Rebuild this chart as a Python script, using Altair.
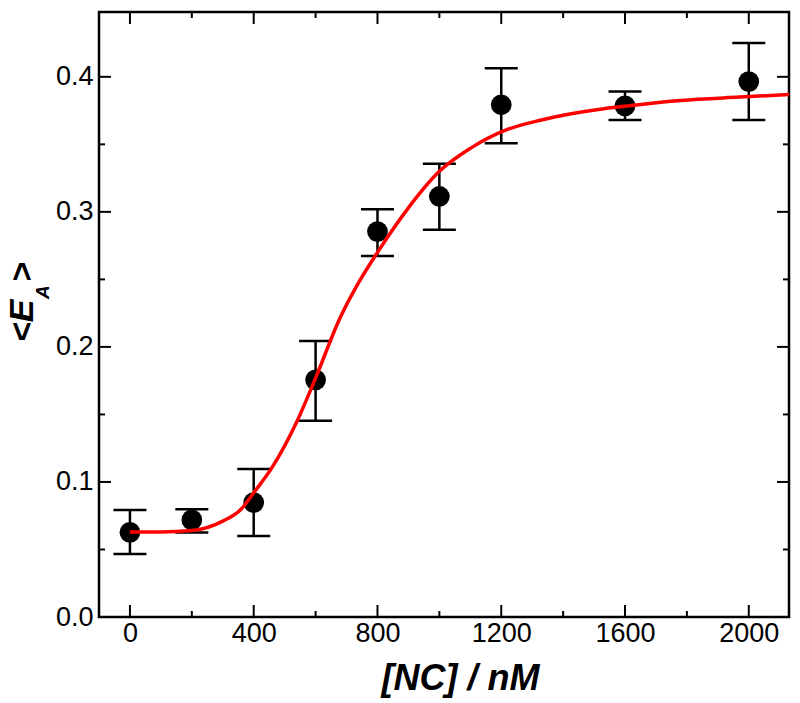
import altair as alt
import pandas as pd

# ---- data ----
conc = [0, 200, 400, 600, 800, 1000, 1200, 1600, 2000]
ea = [0.0627, 0.0719, 0.0847, 0.1756, 0.2854, 0.3114, 0.3793, 0.3785, 0.3965]
err_lo = [0.0467, 0.0625, 0.0600, 0.1454, 0.2674, 0.2867, 0.3509, 0.3681, 0.3680]
err_hi = [0.0793, 0.0797, 0.1096, 0.2044, 0.3020, 0.3356, 0.4064, 0.3891, 0.4250]

fit_x = [0, 100, 200, 300, 360, 400, 460, 540, 600, 680, 740, 800, 900, 1000,
         1100, 1220, 1330, 1400, 1520, 1590, 1780, 1970, 2140]
fit_y = [0.063, 0.063, 0.064, 0.071, 0.080, 0.092, 0.111, 0.145, 0.177, 0.222,
         0.248, 0.270, 0.303, 0.330, 0.347, 0.361, 0.368, 0.3715, 0.376, 0.378,
         0.3825, 0.385, 0.387]

x_major = [0, 400, 800, 1200, 1600, 2000]
x_minor = [200, 600, 1000, 1400, 1800]
y_major = [0.0, 0.1, 0.2, 0.3, 0.4]
y_minor = [0.05, 0.15, 0.25, 0.35]

W, H = 690, 605
XDOM = [-100, 2130]
YDOM = [0, 0.448]

pts = pd.DataFrame({"c": conc, "e": ea, "lo": err_lo, "hi": err_hi})
fit = pd.DataFrame({"c": fit_x, "e": fit_y})

xs = alt.Scale(domain=XDOM, nice=False, zero=False)
ys = alt.Scale(domain=YDOM, nice=False, zero=False)

LBL_FONT = "Liberation Sans"

xaxis = alt.Axis(values=x_major, format="d", domain=False, ticks=False, grid=False,
                 labelFontSize=27, labelFont=LBL_FONT, labelColor="black",
                 labelPadding=3, title="[NC] / nM", titleFont=LBL_FONT,
                 titleFontSize=36, titleFontWeight="bold", titleFontStyle="italic",
                 titleColor="black", titleX=361, titleY=72,
                 titleBaseline="alphabetic", titleAlign="center")
yaxis = alt.Axis(values=y_major, format=".1f", domain=False, ticks=False, grid=False,
                 labelFontSize=27, labelFont=LBL_FONT, labelColor="black",
                 labelPadding=6, title="")


def X(field):
    return alt.X(field, scale=xs, axis=xaxis)


def Y(field):
    return alt.Y(field, scale=ys, axis=yaxis)


points = alt.Chart(pts).mark_circle(size=430, color="black", opacity=1).encode(
    x=X("c:Q"), y=Y("e:Q"))

bars = alt.Chart(pts).mark_rule(color="black", strokeWidth=2.5).encode(
    x=X("c:Q"), y=Y("lo:Q"), y2="hi:Q")
cap_lo = alt.Chart(pts).mark_tick(color="black", orient="horizontal", size=33,
                                  thickness=2.5, opacity=1).encode(
    x=X("c:Q"), y=Y("lo:Q"))
cap_hi = alt.Chart(pts).mark_tick(color="black", orient="horizontal", size=33,
                                  thickness=2.5, opacity=1).encode(
    x=X("c:Q"), y=Y("hi:Q"))

curve = alt.Chart(fit).mark_line(color="#ff0000", strokeWidth=3.5,
                                 interpolate="monotone", clip=True).encode(
    x=X("c:Q"), y=Y("e:Q"))

# inward ticks on all four sides
xmaj = pd.DataFrame({"c": x_major})
xmin = pd.DataFrame({"c": x_minor})
ymaj = pd.DataFrame({"e": y_major})
ymin = pd.DataFrame({"e": y_minor})


def xticks(df, length):
    bottom = alt.Chart(df).mark_rule(color="black", strokeWidth=2).encode(
        x=X("c:Q"), y=alt.value(H), y2=alt.value(H - length))
    top = alt.Chart(df).mark_rule(color="black", strokeWidth=2).encode(
        x=X("c:Q"), y=alt.value(0), y2=alt.value(length))
    return [bottom, top]


def yticks(df, length):
    left = alt.Chart(df).mark_rule(color="black", strokeWidth=2).encode(
        y=Y("e:Q"), x=alt.value(0), x2=alt.value(length))
    right = alt.Chart(df).mark_rule(color="black", strokeWidth=2).encode(
        y=Y("e:Q"), x=alt.value(W), x2=alt.value(W - length))
    return [left, right]


tick_layers = xticks(xmaj, 12) + xticks(xmin, 6) + yticks(ymaj, 12) + yticks(ymin, 6)

# y-axis title <E_A> built from pieces (subscript A)
t1 = alt.Chart(pd.DataFrame({"t": ["<E"]})).mark_text(
    angle=270, align="left", baseline="alphabetic", font=LBL_FONT, fontSize=34,
    fontWeight="bold", fontStyle="italic", color="black").encode(
    text="t:N", x=alt.value(-66), y=alt.value(330))
t2 = alt.Chart(pd.DataFrame({"t": ["A"]})).mark_text(
    angle=270, align="left", baseline="alphabetic", font=LBL_FONT, fontSize=19,
    fontWeight="bold", fontStyle="italic", color="black").encode(
    text="t:N", x=alt.value(-50), y=alt.value(287))
t3 = alt.Chart(pd.DataFrame({"t": [">"]})).mark_text(
    angle=270, align="left", baseline="alphabetic", font=LBL_FONT, fontSize=34,
    fontWeight="bold", fontStyle="italic", color="black").encode(
    text="t:N", x=alt.value(-66), y=alt.value(270))

chart = alt.layer(points, bars, cap_lo, cap_hi, curve, *tick_layers, t1, t2, t3).properties(
    width=W, height=H,
    background="white",
    autosize=alt.AutoSizeParams(type="none"),
    padding={"left": 91, "top": 4, "right": 3, "bottom": 86},
).configure_view(stroke="black", strokeWidth=2.5)

chart.save("out.html", embed_options={"renderer": "svg", "actions": False})
